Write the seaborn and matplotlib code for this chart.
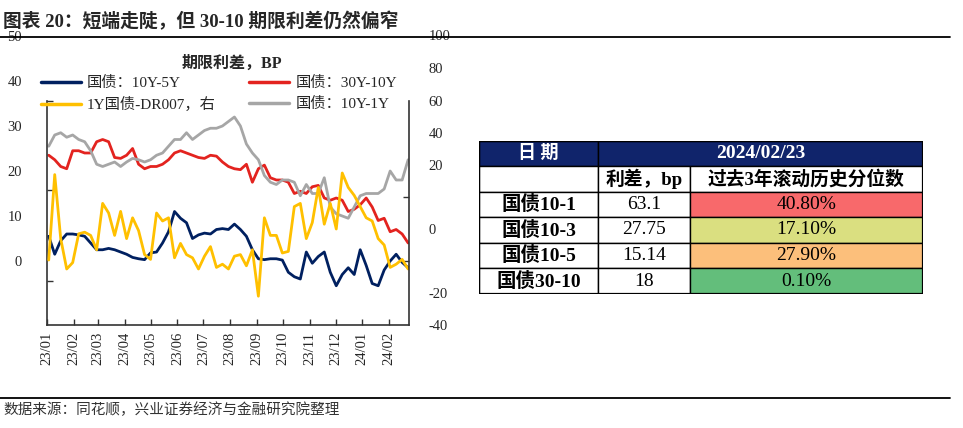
import pandas as pd
import numpy as np
import matplotlib
matplotlib.use('Agg')
import matplotlib.pyplot as plt
import matplotlib.dates as mdates
from matplotlib.lines import Line2D
from matplotlib.patches import Rectangle
import seaborn as sns

# ---- data (roughly weekly) ----
dates = pd.date_range('2023-01-03', '2024-02-23', periods=61)

spread_10y_5y = [5.5, 1.5, 4.5, 6.0, 6.0, 5.8, 5.5, 4.0, 2.5, 2.5,
                 2.8, 2.5, 2.0, 1.5, 0.8, 0.5, 0.3, 1.8, 2.0, 4.0,
                 6.5, 11.0, 9.5, 8.5, 5.0, 5.8, 6.2, 6.0, 7.0, 7.2,
                 7.0, 8.2, 7.0, 5.5, 2.5, 0.5, 0.3, 0.5, 0.5, 0.2,
                 -2.5, -3.5, -4.0, 2.0, -0.5, 1.0, 2.0, -2.5, -5.5, -3.0,
                 -1.5, -3.0, 2.5, -1.0, -5.0, -5.5, -2.0, 0.0, 1.5, -0.3,
                 -1.5]

spread_30y_10y = [23.5, 22.5, 21.0, 20.5, 24.5, 24.5, 24.0, 24.0, 26.5, 27.0,
                  26.5, 23.0, 22.8, 23.5, 25.0, 21.5, 20.5, 21.0, 21.0, 21.5,
                  22.5, 24.0, 24.5, 24.0, 23.5, 23.0, 22.8, 23.5, 23.3, 22.0,
                  21.0, 20.5, 20.3, 21.5, 17.5, 20.5, 21.3, 18.5, 18.0, 18.0,
                  17.5, 15.0, 15.5, 15.0, 16.5, 16.8, 14.0, 13.5, 14.0, 13.5,
                  11.0, 11.5, 12.5, 14.0, 12.0, 9.0, 9.5, 6.5, 7.0, 6.0,
                  4.0]

spread_10y_1y = [25.5, 28.0, 28.5, 27.5, 28.0, 27.0, 26.5, 24.5, 21.5, 21.0,
                 21.5, 22.0, 21.0, 22.0, 22.8, 22.5, 22.0, 22.5, 23.5, 24.0,
                 25.5, 27.0, 27.0, 28.5, 27.0, 28.0, 29.0, 29.5, 29.5, 30.0,
                 31.0, 32.0, 30.0, 26.0, 24.0, 22.5, 19.0, 17.5, 17.0, 18.0,
                 18.0, 17.5, 14.5, 17.0, 15.0, 15.0, 18.5, 12.0, 10.5, 10.0,
                 9.5, 12.0, 14.5, 15.0, 15.0, 15.0, 16.0, 20.0, 18.0, 18.0,
                 22.5]

spread_1y_dr007 = [-9.7, 17.0, -3.0, -12.5, -10.5, -1.5, -1.0, -2.0, -6.5, 8.0,
                   5.0, -2.0, 5.5, -3.0, 3.5, -0.5, -8.0, -9.5, 5.0, 2.5,
                   3.5, -9.0, -4.5, -8.0, -9.0, -12.5, -8.5, -5.5, -12.0, -11.0,
                   -12.5, -8.5, -8.0, -11.5, -6.5, -21.0, 3.5, -2.0, -2.0, -7.5,
                   -7.0, 7.0, 8.0, -3.0, 2.0, 13.0, 1.5, 8.0, 0.0, 17.5,
                   13.0, 10.5, 7.0, 3.5, 2.5, -3.0, -5.0, -12.0, -11.0, -9.5,
                   -12.5]

series_names = ['国债：10Y-5Y', '国债：30Y-10Y', '1Y国债-DR007，右', '国债：10Y-1Y']
series_colors = ['#002060', '#e3231f', '#ffc000', '#a6a6a6']

month_ticks = pd.date_range('2023-01-01', '2024-02-01', freq='MS')
month_labels = [d.strftime('%y/%m') for d in month_ticks]

# axis labels as printed in the reference
left_label_vals = [0, 10, 20, 30, 40, 50]
left_tick_marks = [-4.44, 15.78, 35.56]
right_label_pos = [-30, -20, 0, 20, 30, 40, 50.3, 60.5]
right_label_txt = ['-40', '-20', '0', '20', '40', '60', '80', '100']
right_tick_marks = [-30, -20, -10, 0, 10, 20, 30, 40]

# ---- table data ----
table_date = '2024/02/23'
table_names = ['国债10-1', '国债10-3', '国债10-5', '国债30-10']
table_spread = ['63.1', '27.75', '15.14', '18']
table_pct = ['40.80%', '17.10%', '27.90%', '0.10%']
table_colors = ['#f8696b', '#dadf80', '#fcbf7b', '#63be7b']

sns.set_theme(style='white')
plt.rcParams['font.family'] = ['Liberation Serif', 'Noto Sans CJK SC']
plt.rcParams['axes.unicode_minus'] = False

W, H = 963, 428
fig = plt.figure(figsize=(W / 100, H / 100), dpi=100)

ax = fig.add_axes([47 / W, (H - 325) / H, 362 / W, 290 / H])
ax2 = ax.twinx()

sns.lineplot(x=dates, y=spread_10y_5y, ax=ax, color=series_colors[0], linewidth=2, legend=False)
sns.lineplot(x=dates, y=spread_30y_10y, ax=ax, color=series_colors[1], linewidth=2, legend=False)
sns.lineplot(x=dates, y=spread_10y_1y, ax=ax, color=series_colors[3], linewidth=2, legend=False)
sns.lineplot(x=dates, y=spread_1y_dr007, ax=ax2, color=series_colors[2], linewidth=2, legend=False)

ax.set_xlim(pd.Timestamp('2023-01-01'), pd.Timestamp('2024-02-24'))
ax.set_ylim(-14.22, 50.22)
ax2.set_ylim(-30, 60.625)

ax.set_xticks(month_ticks)
ax.set_xticklabels(month_labels, rotation=90)
ax.tick_params(axis='x', direction='in', length=4, width=1, color='#333333',
               labelsize=10.5, pad=5, bottom=True)

ax.set_yticks(left_label_vals)
ax.set_yticks(left_tick_marks, minor=True)
ax.tick_params(axis='y', which='major', length=0, labelsize=10.5, pad=18, left=True)
ax.tick_params(axis='y', which='minor', direction='in', length=4, width=1,
               color='#333333', left=True)

ax2.set_yticks(right_label_pos)
ax2.set_yticklabels(right_label_txt)
ax2.set_yticks(right_tick_marks, minor=True)
ax2.tick_params(axis='y', which='major', length=0, labelsize=10.5, pad=14, right=True)
ax2.tick_params(axis='y', which='minor', direction='in', length=4, width=1,
                color='#333333', right=True)

for a in (ax, ax2):
    a.set_xlabel('')
    a.set_ylabel('')
    a.grid(False)
    a.spines['top'].set_visible(False)
    for s in a.spines.values():
        s.set_color('#333333')
        s.set_linewidth(1.2)
ax.spines['right'].set_visible(False)
ax2.spines['left'].set_visible(False)
ax2.spines['bottom'].set_visible(False)
ax.spines['left'].set_bounds(-14.22, 35.56)
ax2.spines['right'].set_bounds(-30, 40)

# legend: two rows, two columns
handles = [Line2D([], [], color=c, linewidth=2.5) for c in series_colors]
fig.legend(handles[0:1] + handles[2:3] + handles[1:2] + handles[3:4],
           [series_names[0], series_names[2], series_names[1], series_names[3]],
           ncol=2, loc='upper left', bbox_to_anchor=(35 / W, 1 - 70 / H),
           frameon=False, fontsize=11, handlelength=2.6, handletextpad=0.4,
           columnspacing=2.2, labelspacing=0.45, borderaxespad=0)

fig.text(232 / W, 1 - 64 / H, '期限利差，BP', ha='center', va='center',
         fontsize=11.5, fontweight='bold')

# title, rules and source
fig.text(3 / W, 1 - 22 / H, '图表 20：短端走陡，但 30-10 期限利差仍然偏窄',
         ha='left', va='center', fontsize=13.5, fontweight='bold')
fig.add_artist(Line2D([0, 950 / W], [1 - 37 / H] * 2, color='black', linewidth=1.3))
fig.add_artist(Line2D([0, 950 / W], [1 - 398 / H] * 2, color='black', linewidth=1.3))
fig.text(3 / W, 1 - 410 / H, '数据来源：同花顺，兴业证券经济与金融研究院整理',
         ha='left', va='center', fontsize=10.5, color='#333333')

# ---- table ----
tx = fig.add_axes([479 / W, (H - 294) / H, 444 / W, 153 / H])
tx.set_xlim(0, 444)
tx.set_ylim(153, 0)
tx.axis('off')
col_edges = [0, 119, 211, 444]
row_edges = [0, 25, 51, 76, 102, 127, 153]
navy = '#10246b'


def cell(r, c0, c1, text, fc='white', color='black', bold=False, size=14):
    x0, x1 = col_edges[c0], col_edges[c1]
    y0, y1 = row_edges[r], row_edges[r + 1]
    tx.add_patch(Rectangle((x0, y0), x1 - x0, y1 - y0, facecolor=fc,
                           edgecolor='black', linewidth=1))
    tx.text((x0 + x1) / 2, (y0 + y1) / 2, text, ha='center', va='center',
            fontsize=size, color=color, fontweight='bold' if bold else 'normal')


cell(0, 0, 1, '日 期', fc=navy, color='white', bold=True, size=13)
cell(0, 1, 3, table_date, fc=navy, color='white', bold=True, size=14)
cell(1, 0, 1, '')
cell(1, 1, 2, '利差，bp', bold=True, size=13.5)
cell(1, 2, 3, '过去3年滚动历史分位数', bold=True, size=13.5)
for i, name in enumerate(table_names):
    cell(i + 2, 0, 1, name, bold=True, size=14)
    cell(i + 2, 1, 2, table_spread[i], size=14)
    cell(i + 2, 2, 3, table_pct[i], fc=table_colors[i], size=14)
tx.add_patch(Rectangle((0, 0), 444, 153, fill=False, edgecolor='black', linewidth=1.6))

fig.savefig('out.png', dpi=100)
